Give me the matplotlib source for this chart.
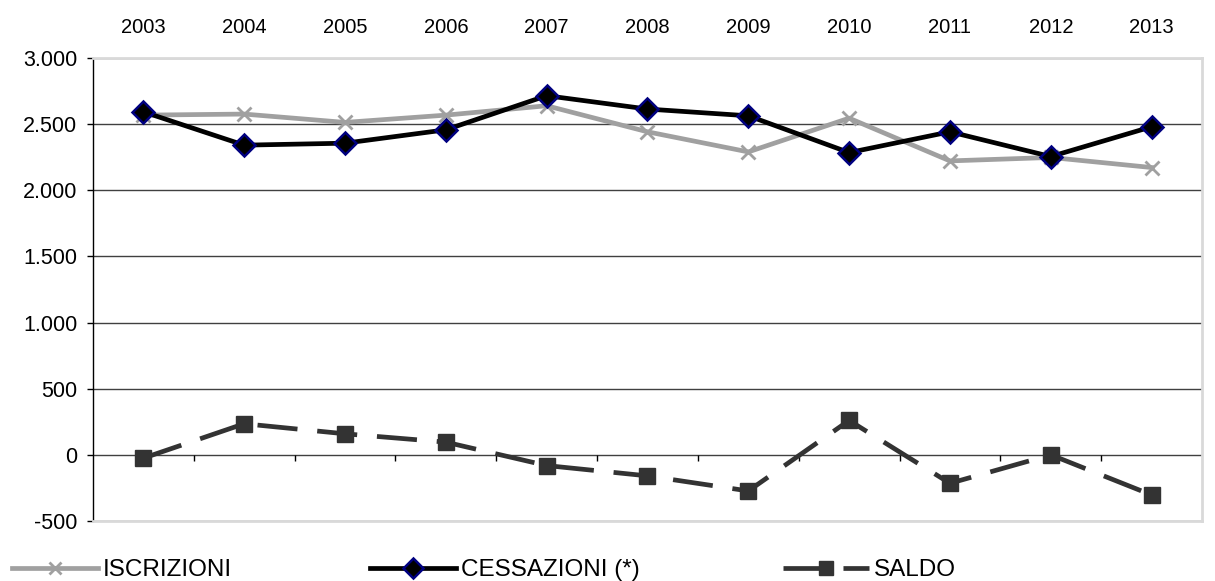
import numpy as np
import matplotlib
matplotlib.use("Agg")
import matplotlib.pyplot as plt
from matplotlib.ticker import FuncFormatter

plt.rcParams['font.family'] = ['Liberation Sans', 'DejaVu Sans']

years = ['2003', '2004', '2005', '2006', '2007', '2008', '2009', '2010', '2011', '2012', '2013']
iscrizioni = [2568, 2576, 2513, 2568, 2639, 2442, 2290, 2545, 2222, 2248, 2172]
cessazioni = [2593, 2341, 2356, 2457, 2715, 2614, 2563, 2285, 2442, 2255, 2480]
saldo = [-25, 235, 159, 96, -81, -159, -273, 260, -215, 0, -303]

x = np.arange(len(years))

fig = plt.figure(figsize=(12.15, 5.81), dpi=100)
ax = fig.add_axes([0.0765, 0.1033, 0.9128, 0.7969])

ax.set_xlim(-0.5, len(years) - 0.5)
ax.set_ylim(-500, 3000)
ax.set_yticks(np.arange(-500, 3001, 500))
ax.yaxis.set_major_formatter(FuncFormatter(lambda v, p: f"{int(v):,}".replace(',', '.')))
ax.grid(axis='y', color='#404040', linewidth=1, zorder=0)
ax.set_axisbelow(True)

# years on top, no tick marks
ax.set_xticks(x)
ax.set_xticklabels(years)
ax.xaxis.tick_top()
ax.tick_params(axis='x', length=0, pad=15, labelsize=14.5)
ax.tick_params(axis='y', length=4.3, pad=7, width=1, labelsize=15.5, direction='out')

for s in ['top', 'right', 'bottom']:
    ax.spines[s].set_color('#d9d9d9')
    ax.spines[s].set_linewidth(2)
ax.spines['left'].set_color('black')
ax.spines['left'].set_linewidth(1)

# category separators on the zero line
ax.vlines(x[:-1] + 0.5, -45, 0, color='black', linewidth=1, zorder=1)

l1, = ax.plot(x, iscrizioni, color='#a0a0a0', lw=3.4, marker='x', ms=9.5, mew=2,
              mec='#a0a0a0', zorder=3, label='ISCRIZIONI')
l2, = ax.plot(x, cessazioni, color='black', lw=3.4, marker='D', ms=11.5, mfc='black',
              mec='#000080', mew=1.8, zorder=4, label='CESSAZIONI (*)')
l3, = ax.plot(x, saldo, color='#333333', lw=3.4, ls=(0, (8.5, 4.2)), marker='s', ms=11,
              mfc='#333333', mec='#333333', zorder=3, label='SALDO')

for h, xpos in [(l1, 12 / 1215), (l2, 370 / 1215), (l3, 783 / 1215)]:
    fig.legend(handles=[h], loc='center left', bbox_to_anchor=(xpos, 1 - 570 / 581),
               frameon=False, fontsize=17.5, handlelength=3.55, handletextpad=0.2,
               borderpad=0, borderaxespad=0, markerscale=0.9)

fig.savefig('out.png', dpi=100)
plt.close(fig)
